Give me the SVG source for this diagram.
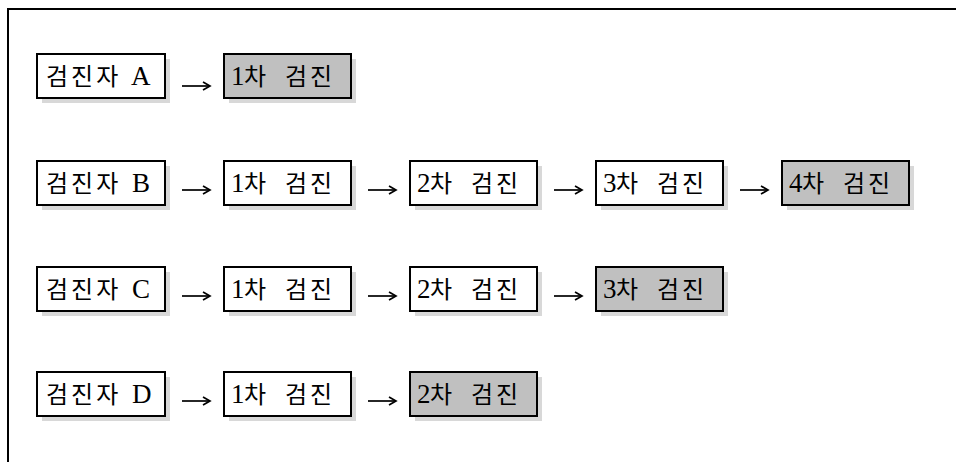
<svg xmlns="http://www.w3.org/2000/svg" width="956" height="462" viewBox="0 0 956 462">
<style>
.frame{fill:none;stroke:#000;stroke-width:2}
.sh{fill:#d8d8d8}
.bx{fill:#fff;stroke:#000;stroke-width:2}
.gr{fill:#c0c0c0;stroke:#000;stroke-width:2}
.t{font-family:"Liberation Serif","Noto Sans CJK KR",serif;font-size:24px;fill:#000}
.k{font-family:"Noto Sans CJK KR","Noto Sans",sans-serif;font-size:24px;letter-spacing:3px}
.l{font-family:"Liberation Serif",serif;font-size:27px}
.ar{stroke:#000;stroke-width:1.7;fill:none;marker-end:url(#ah)}
</style>
<defs>
<marker id="ah" markerWidth="10" markerHeight="10" refX="8" refY="5" orient="auto" markerUnits="userSpaceOnUse">
<path d="M1,1 L8,5 L1,9" fill="none" stroke="#000" stroke-width="1.7"/>
</marker>
</defs>
<rect width="956" height="462" fill="#fff"/>
<path class="frame" d="M8,462 V9 H956"/>
<g id="rowA">
<g id="A0"><rect class="sh" x="42" y="59" width="128" height="44"/><rect class="bx" x="37" y="54" width="128" height="44"/><text class="t" y="85"><tspan class="k" x="46">검진자</tspan><tspan class="l" x="131">A</tspan></text></g>
<g id="A1"><rect class="sh" x="229" y="59" width="127" height="44"/><rect class="gr" x="224" y="54" width="127" height="44"/><text class="t" y="85"><tspan class="l" x="231">1</tspan><tspan class="k" x="244">차</tspan><tspan class="k" x="285">검진</tspan></text></g>
</g>
<g id="rowB">
<g id="B0"><rect class="sh" x="42" y="166" width="128" height="44"/><rect class="bx" x="37" y="161" width="128" height="44"/><text class="t" y="192"><tspan class="k" x="46">검진자</tspan><tspan class="l" x="132">B</tspan></text></g>
<g id="B1"><rect class="sh" x="229" y="166" width="127" height="44"/><rect class="bx" x="224" y="161" width="127" height="44"/><text class="t" y="192"><tspan class="l" x="231">1</tspan><tspan class="k" x="244">차</tspan><tspan class="k" x="285">검진</tspan></text></g>
<g id="B2"><rect class="sh" x="415" y="166" width="127" height="44"/><rect class="bx" x="410" y="161" width="127" height="44"/><text class="t" y="192"><tspan class="l" x="417">2</tspan><tspan class="k" x="430">차</tspan><tspan class="k" x="471">검진</tspan></text></g>
<g id="B3"><rect class="sh" x="601" y="166" width="127" height="44"/><rect class="bx" x="596" y="161" width="127" height="44"/><text class="t" y="192"><tspan class="l" x="603">3</tspan><tspan class="k" x="616">차</tspan><tspan class="k" x="657">검진</tspan></text></g>
<g id="B4"><rect class="sh" x="787" y="166" width="127" height="44"/><rect class="gr" x="782" y="161" width="127" height="44"/><text class="t" y="192"><tspan class="l" x="789">4</tspan><tspan class="k" x="802">차</tspan><tspan class="k" x="843">검진</tspan></text></g>
</g>
<g id="rowC">
<g id="C0"><rect class="sh" x="42" y="272" width="128" height="44"/><rect class="bx" x="37" y="267" width="128" height="44"/><text class="t" y="298"><tspan class="k" x="46">검진자</tspan><tspan class="l" x="132">C</tspan></text></g>
<g id="C1"><rect class="sh" x="229" y="272" width="127" height="44"/><rect class="bx" x="224" y="267" width="127" height="44"/><text class="t" y="298"><tspan class="l" x="231">1</tspan><tspan class="k" x="244">차</tspan><tspan class="k" x="285">검진</tspan></text></g>
<g id="C2"><rect class="sh" x="415" y="272" width="127" height="44"/><rect class="bx" x="410" y="267" width="127" height="44"/><text class="t" y="298"><tspan class="l" x="417">2</tspan><tspan class="k" x="430">차</tspan><tspan class="k" x="471">검진</tspan></text></g>
<g id="C3"><rect class="sh" x="601" y="272" width="127" height="44"/><rect class="gr" x="596" y="267" width="127" height="44"/><text class="t" y="298"><tspan class="l" x="603">3</tspan><tspan class="k" x="616">차</tspan><tspan class="k" x="657">검진</tspan></text></g>
</g>
<g id="rowD">
<g id="D0"><rect class="sh" x="42" y="377" width="128" height="44"/><rect class="bx" x="37" y="372" width="128" height="44"/><text class="t" y="403"><tspan class="k" x="46">검진자</tspan><tspan class="l" x="132">D</tspan></text></g>
<g id="D1"><rect class="sh" x="229" y="377" width="127" height="44"/><rect class="bx" x="224" y="372" width="127" height="44"/><text class="t" y="403"><tspan class="l" x="231">1</tspan><tspan class="k" x="244">차</tspan><tspan class="k" x="285">검진</tspan></text></g>
<g id="D2"><rect class="sh" x="415" y="377" width="127" height="44"/><rect class="gr" x="410" y="372" width="127" height="44"/><text class="t" y="403"><tspan class="l" x="417">2</tspan><tspan class="k" x="430">차</tspan><tspan class="k" x="471">검진</tspan></text></g>
</g>
<g id="connectors">
<line class="ar" x1="182" y1="86" x2="210" y2="86"/>
<line class="ar" x1="182" y1="190" x2="210" y2="190"/>
<line class="ar" x1="368" y1="190" x2="396" y2="190"/>
<line class="ar" x1="554" y1="190" x2="582" y2="190"/>
<line class="ar" x1="740" y1="190" x2="768" y2="190"/>
<line class="ar" x1="182" y1="296" x2="210" y2="296"/>
<line class="ar" x1="368" y1="296" x2="396" y2="296"/>
<line class="ar" x1="554" y1="296" x2="582" y2="296"/>
<line class="ar" x1="182" y1="401" x2="210" y2="401"/>
<line class="ar" x1="368" y1="401" x2="396" y2="401"/>
</g>
</svg>
